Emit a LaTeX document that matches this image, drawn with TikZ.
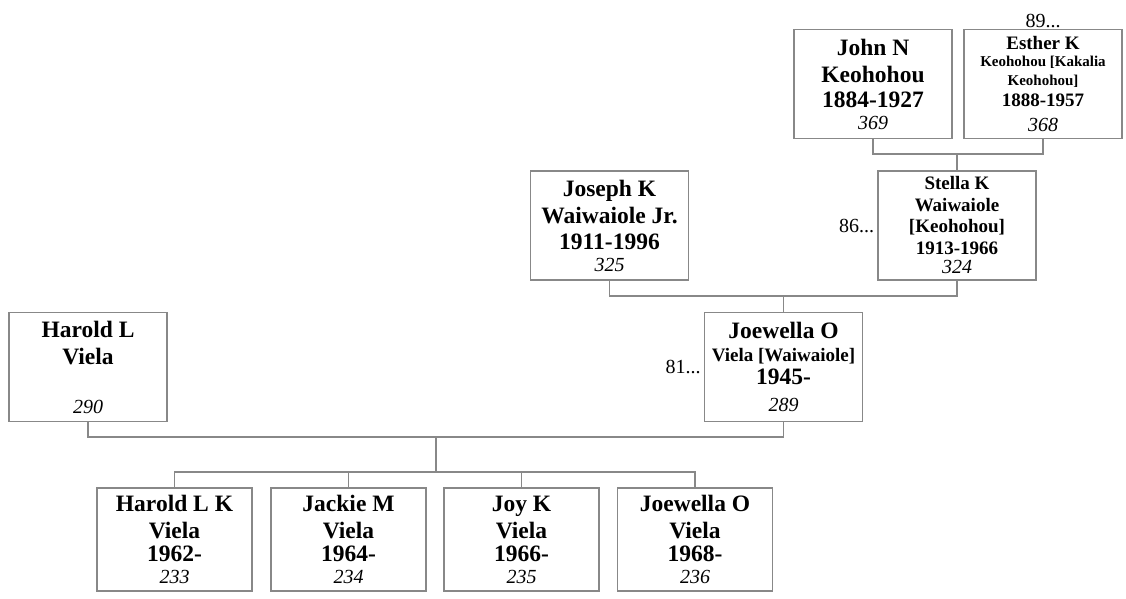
\documentclass[tikz,border=0pt]{standalone}
\usepackage{fontspec}
\setmainfont{Liberation Serif}
\usetikzlibrary{positioning}
\definecolor{boxgray}{HTML}{888888}
\newcommand{\nmmid}[1]{{\fontsize{19}{21}\selectfont #1}}
\newcommand{\nmsmall}[1]{{\fontsize{15}{18}\selectfont #1}}
\newcommand{\refno}[1]{{\mdseries\itshape\fontsize{20}{24}\selectfont #1}}
\tikzset{
  person/.style={draw=boxgray,line width=1.4pt,rectangle,inner sep=0pt,
    minimum width=158pt,minimum height=109pt,align=center,
    font=\bfseries\fontsize{23.5}{27}\selectfont},
  person small/.style={person,font=\bfseries\fontsize{19}{21.5}\selectfont},
  child/.style={person,minimum width=155pt,minimum height=103pt},
  link/.style={draw=boxgray,line width=1.4pt},
  more/.style={font=\fontsize{20}{24}\selectfont,inner sep=1pt}
}
\begin{document}
\begin{tikzpicture}[x=1pt,y=-1pt]
\useasboundingbox (0,0) rectangle (1126,599);
\node[person] (john) at (873,84) {John N\\Keohohou\\[-2pt]1884-1927\\[-5pt]\refno{369}};
\node[person small] (esther) at (1043,84) {Esther K\\[-4pt]\nmsmall{Keohohou [Kakalia}\\[-3pt]\nmsmall{Keohohou]}\\1888-1957\\[3pt]\refno{368}};
\node[more,above=0pt of esther] (m89) {89...};
\node[person] (joseph) at (609.5,225.5) {Joseph K\\Waiwaiole Jr.\\[-1pt]1911-1996\\[-5pt]\refno{325}};
\node[person small] (stella) at (957,225.5) {Stella K\\Waiwaiole\\{[Keohohou]}\\1913-1966\\[-2pt]\refno{324}};
\node[more,left=2pt of stella] (m86) {86...};
\node[person] (harold) at (88,367) {Harold L\\Viela\\[22pt]\refno{290}};
\node[person] (joewella) at (783.5,367) {Joewella O\\[-4pt]\nmmid{Viela [Waiwaiole]}\\[-4pt]1945-\\\refno{289}};
\node[more,left=2pt of joewella] (m81) {81...};
\node[child] (kid1) at (174.5,539.5) {Harold L K\\Viela\\[-4pt]1962-\\[-5pt]\refno{233}};
\node[child] (kid2) at (348.5,539.5) {Jackie M\\Viela\\[-4pt]1964-\\[-5pt]\refno{234}};
\node[child] (kid3) at (521.5,539.5) {Joy K\\Viela\\[-4pt]1966-\\[-5pt]\refno{235}};
\node[child] (kid4) at (695,539.5) {Joewella O\\Viela\\[-4pt]1968-\\[-5pt]\refno{236}};
\coordinate (je) at (957,154);
\coordinate (js) at (783.5,296);
\coordinate (hj) at (436,437);
\coordinate (kids) at (436,472);
\draw[link] (john.south) |- (je) -| (esther.south);
\draw[link] (je) -- (je |- stella.north);
\draw[link] (joseph.south) |- (js) -| (stella.south);
\draw[link] (js) -- (joewella.north);
\draw[link] (harold.south) |- (hj) -| (joewella.south);
\draw[link] (hj) -- (kids);
\draw[link] (kid1.north) |- (kids) -| (kid4.north);
\draw[link] (kid2.north) -- (kid2.north |- kids);
\draw[link] (kid3.north) -- (kid3.north |- kids);
\end{tikzpicture}
\end{document}
